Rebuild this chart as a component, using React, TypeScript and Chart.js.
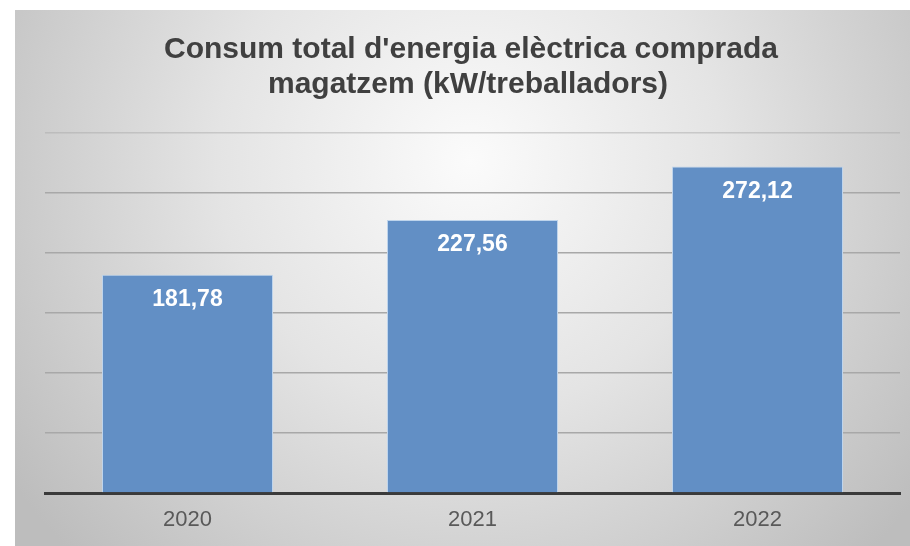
import React, { useEffect, useRef } from "react";
import { Chart, registerables } from "chart.js";

Chart.register(...registerables);

const categories = ["2020", "2021", "2022"];
const values = [181.78, 227.56, 272.12];
const valueLabels = ["181,78", "227,56", "272,12"];
const titleLines = ["Consum total d'energia elèctrica comprada", "magatzem (kW/treballadors)"];

const FONT = "'Liberation Sans', Arial, sans-serif";

const bgPlugin = {
  id: "bgPlugin",
  beforeDraw(chart: any) {
    const { ctx, width, height } = chart;
    ctx.save();
    ctx.fillStyle = "#ffffff";
    ctx.fillRect(0, 0, width, height);
    const g = ctx.createRadialGradient(470, 160, 0, 470, 160, 560);
    g.addColorStop(0, "#fbfbfb");
    g.addColorStop(0.45, "#e4e4e4");
    g.addColorStop(1, "#bdbdbd");
    ctx.fillStyle = g;
    ctx.fillRect(15, 10, width - 15, height - 10);
    ctx.fillStyle = "#404040";
    ctx.font = `bold 30px ${FONT}`;
    ctx.textAlign = "center";
    ctx.textBaseline = "middle";
    ctx.fillText(titleLines[0], 471, 50);
    ctx.fillText(titleLines[1], 468, 85);
    ctx.restore();
  },
};

const labelPlugin = {
  id: "labelPlugin",
  afterDatasetsDraw(chart: any) {
    const { ctx } = chart;
    const meta = chart.getDatasetMeta(0);
    ctx.save();
    ctx.fillStyle = "#ffffff";
    ctx.font = `bold 23px ${FONT}`;
    ctx.textAlign = "center";
    ctx.textBaseline = "middle";
    meta.data.forEach((bar: any, i: number) => {
      ctx.fillText(valueLabels[i], bar.x, bar.y + 25);
    });
    ctx.restore();
  },
};

export default function App() {
  const ref = useRef<HTMLCanvasElement>(null);
  useEffect(() => {
    document.body.style.margin = "0";
    const chart = new Chart(ref.current!, {
      type: "bar",
      data: {
        labels: categories,
        datasets: [
          {
            data: values,
            backgroundColor: "rgb(98,143,197)",
            borderColor: "rgb(190,212,236)",
            borderWidth: 1,
            categoryPercentage: 1,
            barPercentage: 0.6,
          },
        ],
      },
      options: {
        animation: false,
        responsive: false,
        layout: { padding: { top: 133, left: 45, right: 10, bottom: 0 } },
        plugins: { legend: { display: false }, title: { display: false }, tooltip: { enabled: false } },
        scales: {
          x: {
            grid: { display: false },
            border: { display: true, color: "#3a3a3a", width: 3 },
            ticks: { color: "#595959", font: { family: FONT, size: 22 }, padding: 6 },
            afterFit: (s: any) => { s.height = 53; },
          },
          y: {
            min: 0,
            max: 300,
            ticks: { display: false, stepSize: 50 },
            border: { display: false },
            grid: {
              color: (c: any) => (c.tick && c.tick.value === 300 ? "rgba(170,170,170,0.5)" : "#a8a8a8"),
              lineWidth: 1.5,
              drawTicks: false,
            },
            afterFit: (s: any) => { s.width = 0; },
          },
        },
      },
      plugins: [bgPlugin, labelPlugin],
    });
    return () => chart.destroy();
  }, []);
  return <canvas ref={ref} width={910} height={546} style={{ display: "block" }} />;
}
